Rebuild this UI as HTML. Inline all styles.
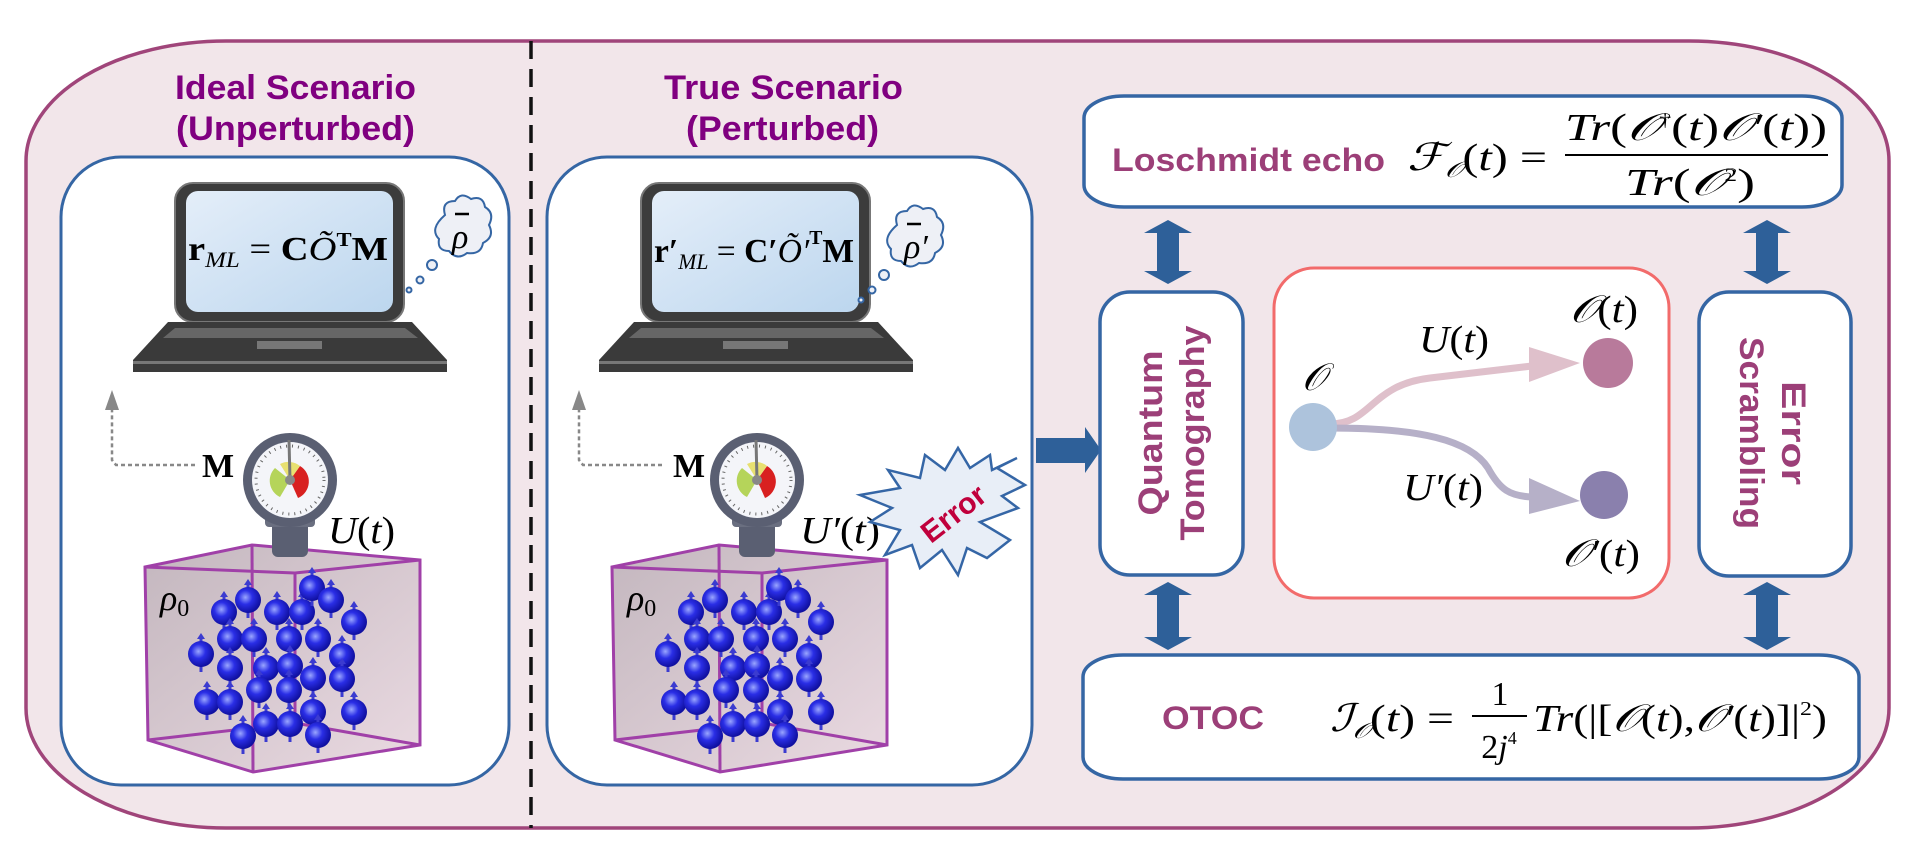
<!DOCTYPE html>
<html><head><meta charset="utf-8"><style>
html,body{margin:0;padding:0;background:#fff;}
svg{display:block;}
.t{font-family:"Liberation Sans",sans-serif;font-weight:bold;}
.m{font-family:"Liberation Serif",serif;font-style:italic;}
.r{font-family:"Liberation Serif",serif;}
</style></head><body>
<svg width="1917" height="859" viewBox="0 0 1917 859" xmlns="http://www.w3.org/2000/svg">
<defs>
<linearGradient id="scr" x1="0" y1="0" x2="1" y2="1"><stop offset="0" stop-color="#e4eef9"/><stop offset="1" stop-color="#bcd6ee"/></linearGradient>
<linearGradient id="cube" x1="0" y1="0" x2="1" y2="1"><stop offset="0" stop-color="#b9aab3"/><stop offset="1" stop-color="#e6d3dc"/></linearGradient>
<radialGradient id="sp" cx="0.4" cy="0.4" r="0.6"><stop offset="0" stop-color="#9aa6ff"/><stop offset="0.45" stop-color="#2a2ee6"/><stop offset="1" stop-color="#1010a0"/></radialGradient>
<g id="sph"><line x1="0" y1="8" x2="0" y2="18" stroke="#3b3bd0" stroke-width="3"/><line x1="0" y1="-8" x2="0" y2="-17" stroke="#3b3bd0" stroke-width="3"/><polygon points="-4,-15 4,-15 0,-21" fill="#3b3bd0"/><circle r="13" fill="url(#sp)"/></g>
<g id="laptop">
<rect x="175" y="183" width="229" height="139" rx="18" fill="#3c3c3c" stroke="#777" stroke-width="2"/>
<rect x="186" y="191" width="207" height="121" rx="12" fill="url(#scr)"/>
<polygon points="168,322 412,322 447,360 447,372 133,372 133,360" fill="#3a3a3a"/>
<polygon points="175,328 405,328 418,338 163,338" fill="#666"/>
<rect x="257" y="341" width="65" height="8" fill="#777"/>
<rect x="133" y="361" width="314" height="3" fill="#777"/>
</g>
<g id="gauge">
<rect x="272" y="515" width="36" height="42" rx="6" fill="#5a5f72"/>
<rect x="265" y="515" width="50" height="12" rx="4" fill="#6a6f80"/>
<circle cx="290" cy="480" r="47" fill="#5a5f72"/>
<circle cx="290" cy="480" r="38" fill="#f4f5f9"/>
<circle cx="290" cy="480" r="34" fill="none" stroke="#666" stroke-width="3" stroke-dasharray="1 5"/>
<path d="M290,480 L275,468 A18,18 0 0 0 280,497 Z" fill="#b5d45a"/>
<path d="M290,480 L300,466 A18,18 0 0 1 298,498 Z" fill="#d82020"/>
<path d="M290,480 L280,464 A18,18 0 0 1 300,466 Z" fill="#e8e070"/>
<line x1="290" y1="480" x2="289" y2="440" stroke="#777" stroke-width="3"/>
<circle cx="290" cy="480" r="5" fill="#888"/>
</g>
<g id="cubeg">
<polygon points="145,567 252,545 420,560 420,745 253,772 148,740" fill="url(#cube)" opacity="0.85"/>
<g fill="none" stroke="#a040a8" stroke-width="3">
<polygon points="145,567 252,545 420,560 420,745 253,772 148,740"/>
<polyline points="145,567 295,573 420,560"/>
<line x1="252" y1="545" x2="253" y2="772"/>
<line x1="295" y1="573" x2="295" y2="723"/>
<polyline points="148,740 295,723 420,745"/>
</g>
</g>
<g id="spheres">
<use href="#sph" x="248" y="600"/><use href="#sph" x="224" y="612"/><use href="#sph" x="277" y="612"/><use href="#sph" x="302" y="612"/><use href="#sph" x="312" y="588"/><use href="#sph" x="331" y="600"/><use href="#sph" x="354" y="622"/>
<use href="#sph" x="230" y="639"/><use href="#sph" x="254" y="639"/><use href="#sph" x="289" y="639"/><use href="#sph" x="318" y="639"/><use href="#sph" x="342" y="656"/><use href="#sph" x="201" y="654"/>
<use href="#sph" x="230" y="668"/><use href="#sph" x="266" y="668"/><use href="#sph" x="290" y="666"/><use href="#sph" x="313" y="678"/><use href="#sph" x="342" y="679"/><use href="#sph" x="259" y="690"/><use href="#sph" x="289" y="690"/>
<use href="#sph" x="207" y="702"/><use href="#sph" x="230" y="702"/><use href="#sph" x="313" y="712"/><use href="#sph" x="354" y="712"/><use href="#sph" x="266" y="724"/><use href="#sph" x="290" y="724"/><use href="#sph" x="243" y="736"/><use href="#sph" x="318" y="735"/>
</g>
<path id="cloud" d="M445,215 q-4,-14 10,-14 q6,-10 16,-2 q12,-4 14,8 q10,6 4,18 q6,12 -6,18 q-2,12 -16,10 q-10,8 -18,-2 q-12,0 -10,-12 q-10,-10 6,-24 z"/>
</defs>

<!-- outer box -->
<rect x="26" y="41" width="1863" height="787" rx="200" ry="120" fill="#f2e6ea" stroke="#a0457a" stroke-width="3.5"/>
<line x1="531" y1="41" x2="531" y2="828" stroke="#111" stroke-width="3.5" stroke-dasharray="18 10"/>

<!-- titles -->
<text class="t" x="175" y="99" font-size="34" fill="#800080" textLength="241" lengthAdjust="spacingAndGlyphs">Ideal Scenario</text>
<text class="t" x="176" y="140" font-size="34" fill="#800080" textLength="239" lengthAdjust="spacingAndGlyphs">(Unperturbed)</text>
<text class="t" x="664" y="99" font-size="34" fill="#800080" textLength="239" lengthAdjust="spacingAndGlyphs">True Scenario</text>
<text class="t" x="686" y="140" font-size="34" fill="#800080" textLength="193" lengthAdjust="spacingAndGlyphs">(Perturbed)</text>

<!-- panels -->
<rect x="61" y="157" width="448" height="628" rx="60" fill="#fff" stroke="#3566a4" stroke-width="3"/>
<rect x="547" y="157" width="485" height="628" rx="60" fill="#fff" stroke="#3566a4" stroke-width="3"/>

<!-- left panel content -->
<use href="#laptop"/>
<text class="r" x="188" y="260" font-size="34" font-weight="bold" textLength="200" lengthAdjust="spacingAndGlyphs">r<tspan class="m" font-weight="normal" font-size="22" dy="7">ML</tspan><tspan dy="-7" font-weight="normal"> = </tspan>C<tspan class="m" font-weight="normal">Õ</tspan><tspan font-size="20" dy="-14">T</tspan><tspan dy="14">M</tspan></text>
<g fill="#eef0f6" stroke="#3566a4" stroke-width="2">
<use href="#cloud"/>
<circle cx="432" cy="265" r="5"/><circle cx="420" cy="280" r="3.5"/><circle cx="409" cy="290" r="2.5"/>
</g>
<text class="m" x="452" y="248" font-size="34">ρ</text>
<line x1="455" y1="214" x2="469" y2="214" stroke="#000" stroke-width="2.5"/>
<polyline points="195,465 116,465 112,460 112,405" fill="none" stroke="#888" stroke-width="2.5" stroke-dasharray="4 3"/>
<polygon points="105,410 119,410 112,390" fill="#888"/>
<text class="r" x="202" y="477" font-size="34" font-weight="bold">M</text>
<use href="#cubeg"/>
<use href="#spheres"/>
<use href="#gauge"/>
<text class="m" x="328" y="543" font-size="38" textLength="67" lengthAdjust="spacingAndGlyphs">U<tspan font-style="normal">(</tspan>t<tspan font-style="normal">)</tspan></text>
<text class="m" x="160" y="610" font-size="36">ρ<tspan font-style="normal" font-size="24" dy="6">0</tspan></text>

<!-- right panel content -->
<g transform="translate(466 0)"><use href="#laptop"/></g>
<text class="r" x="654" y="262" font-size="34" font-weight="bold" textLength="200" lengthAdjust="spacingAndGlyphs">r′<tspan class="m" font-weight="normal" font-size="22" dy="7">ML</tspan><tspan dy="-7" font-weight="normal"> = </tspan>C′<tspan class="m" font-weight="normal">Õ′</tspan><tspan font-size="20" dy="-18">T</tspan><tspan dy="18">M</tspan></text>
<g fill="#eef0f6" stroke="#3566a4" stroke-width="2" transform="translate(452 10)">
<use href="#cloud"/>
<circle cx="432" cy="265" r="5"/><circle cx="420" cy="280" r="3.5"/><circle cx="409" cy="290" r="2.5"/>
</g>
<text class="m" x="904" y="258" font-size="34">ρ′</text>
<line x1="907" y1="224" x2="921" y2="224" stroke="#000" stroke-width="2.5"/>
<g transform="translate(467 0)">
<polyline points="195,465 116,465 112,460 112,405" fill="none" stroke="#888" stroke-width="2.5" stroke-dasharray="4 3"/>
<polygon points="105,410 119,410 112,390" fill="#888"/>
<text class="r" x="206" y="477" font-size="34" font-weight="bold">M</text>
<use href="#cubeg"/>
<use href="#spheres"/>
<use href="#gauge"/>
<text class="m" x="160" y="610" font-size="36">ρ<tspan font-style="normal" font-size="24" dy="6">0</tspan></text>
</g>
<text class="m" x="800" y="543" font-size="38" textLength="80" lengthAdjust="spacingAndGlyphs">U′<tspan font-style="normal">(</tspan>t<tspan font-style="normal">)</tspan></text>
<polygon points="1017,458 997,468 1025,485 1002,496 1018,508 980,522 1010,540 987,558 967,548 958,575 942,550 920,568 912,545 885,555 900,530 870,522 892,508 860,495 900,488 888,470 920,478 925,455 945,470 958,448 970,468 990,455 992,470" fill="#e8eef7" stroke="#3566a6" stroke-width="2.5"/>
<text class="t" x="953" y="524" font-size="30" fill="#c0003c" text-anchor="middle" transform="rotate(-38 953 513)">Error</text>

<!-- big arrow -->
<polygon points="1036,438 1085,438 1085,427 1101,450 1085,473 1085,463 1036,463" fill="#2e6099"/>

<!-- double arrows -->
<g fill="#2e6099">
<polygon points="1168,220 1192,233 1179,233 1179,271 1192,271 1168,284 1144,271 1157,271 1157,233 1144,233"/>
<polygon points="1767,220 1791,233 1778,233 1778,271 1791,271 1767,284 1743,271 1756,271 1756,233 1743,233"/>
<polygon points="1168,582 1192,595 1179,595 1179,637 1192,637 1168,650 1144,637 1157,637 1157,595 1144,595"/>
<polygon points="1767,582 1791,595 1778,595 1778,637 1791,637 1767,650 1743,637 1756,637 1756,595 1743,595"/>
</g>

<!-- Loschmidt box -->
<rect x="1084" y="96" width="758" height="111" rx="40" ry="22" fill="#fff" stroke="#3566a4" stroke-width="3.5"/>
<text class="t" x="1112" y="171" font-size="32" fill="#9c3f78" textLength="273" lengthAdjust="spacingAndGlyphs">Loschmidt echo</text>
<text class="m" x="1407" y="170" font-size="38" textLength="140" lengthAdjust="spacingAndGlyphs">ℱ<tspan font-size="22" dy="7">𝒪</tspan><tspan dy="-7" font-style="normal">(</tspan>t<tspan font-style="normal">) =</tspan></text>
<text class="m" x="1565" y="140" font-size="38" textLength="262" lengthAdjust="spacingAndGlyphs">Tr<tspan font-style="normal">(</tspan>𝒪<tspan font-size="18" dy="-14" font-style="normal">†</tspan><tspan dy="14" font-style="normal">(</tspan>t<tspan font-style="normal">)</tspan>𝒪′<tspan font-style="normal">(</tspan>t<tspan font-style="normal">))</tspan></text>
<line x1="1565" y1="155" x2="1828" y2="155" stroke="#000" stroke-width="2"/>
<text class="m" x="1625" y="195" font-size="38" textLength="130" lengthAdjust="spacingAndGlyphs">Tr<tspan font-style="normal">(</tspan>𝒪<tspan font-size="18" dy="-14" font-style="normal">2</tspan><tspan dy="14" font-style="normal">)</tspan></text>

<!-- QT box -->
<rect x="1100" y="292" width="143" height="283" rx="30" fill="#fff" stroke="#3566a4" stroke-width="3.5"/>
<text class="t" font-size="34" fill="#9c3f78" text-anchor="middle" textLength="165" lengthAdjust="spacingAndGlyphs" transform="translate(1162 433) rotate(-90)">Quantum</text>
<text class="t" font-size="34" fill="#9c3f78" text-anchor="middle" textLength="215" lengthAdjust="spacingAndGlyphs" transform="translate(1204 433) rotate(-90)">Tomography</text>

<!-- red box -->
<rect x="1274" y="268" width="395" height="330" rx="40" fill="#fff" stroke="#f26b6b" stroke-width="3"/>
<path d="M1330,424 C1372,424 1370,385 1430,378 L1532,366" fill="none" stroke="#dfc0cb" stroke-width="7"/>
<polygon points="1529,347 1580,363 1529,382" fill="#dfc0cb"/>
<path d="M1330,428 C1420,428 1470,440 1488,468 C1500,490 1510,496 1532,497" fill="none" stroke="#b6b0c8" stroke-width="7"/>
<polygon points="1529,478 1580,501 1529,514" fill="#b6b0c8"/>
<ellipse cx="1313" cy="427" rx="24" ry="24" fill="#adc3dc"/>
<circle cx="1608" cy="363" r="25" fill="#b87a9b"/>
<circle cx="1604" cy="495" r="24" fill="#8a80ad"/>
<text class="m" x="1302" y="390" font-size="38">𝒪</text>
<text class="m" x="1419" y="352" font-size="38" textLength="70" lengthAdjust="spacingAndGlyphs">U<tspan font-style="normal">(</tspan>t<tspan font-style="normal">)</tspan></text>
<text class="m" x="1570" y="322" font-size="38" textLength="68" lengthAdjust="spacingAndGlyphs">𝒪<tspan font-style="normal">(</tspan>t<tspan font-style="normal">)</tspan></text>
<text class="m" x="1403" y="500" font-size="38" textLength="80" lengthAdjust="spacingAndGlyphs">U′<tspan font-style="normal">(</tspan>t<tspan font-style="normal">)</tspan></text>
<text class="m" x="1562" y="566" font-size="38" textLength="78" lengthAdjust="spacingAndGlyphs">𝒪′<tspan font-style="normal">(</tspan>t<tspan font-style="normal">)</tspan></text>

<!-- Error scrambling box -->
<rect x="1699" y="292" width="152" height="284" rx="30" fill="#fff" stroke="#3566a4" stroke-width="3.5"/>
<text class="t" font-size="34" fill="#9c3f78" text-anchor="middle" textLength="104" lengthAdjust="spacingAndGlyphs" transform="translate(1782 433) rotate(90)">Error</text>
<text class="t" font-size="34" fill="#9c3f78" text-anchor="middle" textLength="192" lengthAdjust="spacingAndGlyphs" transform="translate(1740 433) rotate(90)">Scrambling</text>

<!-- OTOC box -->
<rect x="1083" y="655" width="776" height="124" rx="40" ry="22" fill="#fff" stroke="#3566a4" stroke-width="3.5"/>
<text class="t" x="1162" y="729" font-size="32" fill="#9c3f78" textLength="102" lengthAdjust="spacingAndGlyphs">OTOC</text>
<text class="m" x="1330" y="731" font-size="38" textLength="124" lengthAdjust="spacingAndGlyphs">ℐ<tspan font-size="22" dy="7">𝒪</tspan><tspan dy="-7" font-style="normal">(</tspan>t<tspan font-style="normal">) =</tspan></text>
<text class="r" x="1500" y="705" font-size="34" text-anchor="middle">1</text>
<line x1="1472" y1="716" x2="1527" y2="716" stroke="#000" stroke-width="2"/>
<text class="r" x="1499" y="758" font-size="34" text-anchor="middle">2<tspan class="m">j</tspan><tspan font-size="18" dy="-14">4</tspan></text>
<text class="m" x="1533" y="731" font-size="38" textLength="294" lengthAdjust="spacingAndGlyphs">Tr<tspan font-style="normal">(|[</tspan>𝒪<tspan font-style="normal">(</tspan>t<tspan font-style="normal">),</tspan>𝒪′<tspan font-style="normal">(</tspan>t<tspan font-style="normal">)]|</tspan><tspan font-style="normal" font-size="20" dy="-16">2</tspan><tspan font-style="normal" dy="16">)</tspan></text>
</svg>
</body></html>
